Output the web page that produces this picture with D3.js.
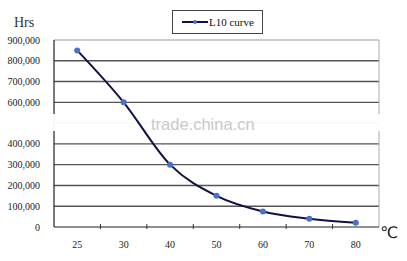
<!DOCTYPE html>
<html>
<head>
<meta charset="utf-8">
<script src="https://cdn.jsdelivr.net/npm/d3@7"></script>
<style>
  body { margin: 0; background: #fff; }
  text { font-family: "Liberation Serif", "DejaVu Serif", serif; }
</style>
</head>
<body>
<div id="chart"></div>
<script>
// data
const temps = ['25', '30', '40', '50', '60', '70', '80'];
const hours = [850000, 600000, 300000, 150000, 75000, 40000, 20000];
const yTicks = [0, 100000, 200000, 300000, 400000, 600000, 700000, 800000, 900000];
const seriesName = 'L10 curve';

const width = 407, height = 261;
const margin = { top: 40, right: 28, bottom: 34, left: 54 };

const svg = d3.select('#chart').append('svg')
  .attr('width', width)
  .attr('height', height);

const x = d3.scaleBand().domain(temps).range([margin.left, width - margin.right]);
const y = d3.scaleLinear().domain([0, 900000]).range([height - margin.bottom, margin.top]);

// horizontal grid
svg.append('g')
  .selectAll('line')
  .data(d3.range(100000, 900001, 100000))
  .enter().append('line')
  .attr('x1', margin.left)
  .attr('x2', width - margin.right)
  .attr('y1', d => y(d))
  .attr('y2', d => y(d))
  .attr('stroke', d => d === 900000 ? '#999' : '#555')
  .attr('stroke-width', d => d === 900000 ? 1 : 1.4);

// right border
svg.append('line')
  .attr('x1', width - margin.right).attr('x2', width - margin.right)
  .attr('y1', y(900000)).attr('y2', y(0))
  .attr('stroke', '#aaa');

// axes
svg.append('line')
  .attr('x1', margin.left).attr('x2', margin.left)
  .attr('y1', y(900000)).attr('y2', y(0))
  .attr('stroke', '#222').attr('stroke-width', 1.2);
svg.append('line')
  .attr('x1', margin.left).attr('x2', width - margin.right)
  .attr('y1', y(0)).attr('y2', y(0))
  .attr('stroke', '#222').attr('stroke-width', 1.2);

// x ticks on category boundaries
svg.append('g')
  .selectAll('line')
  .data(temps.slice(1))
  .enter().append('line')
  .attr('x1', d => x(d)).attr('x2', d => x(d))
  .attr('y1', y(0) - 3).attr('y2', y(0) + 2)
  .attr('stroke', '#333');

// watermark band
svg.append('rect')
  .attr('x', 0).attr('y', 114)
  .attr('width', width).attr('height', 17)
  .attr('fill', '#fff').attr('opacity', 0.95);
svg.append('text')
  .attr('x', 151).attr('y', 130)
  .style('font-family', 'Arial, "Liberation Sans", sans-serif')
  .style('font-size', '16.5px')
  .attr('fill', '#c9c9c9')
  .text('trade.china.cn');

// y labels
svg.append('g')
  .selectAll('text')
  .data(yTicks)
  .enter().append('text')
  .attr('x', 40)
  .attr('y', d => y(d) + 3.5)
  .attr('text-anchor', 'end')
  .style('font-size', '10px')
  .attr('fill', '#222')
  .text(d => d3.format(',')(d));

// x labels
svg.append('g')
  .selectAll('text')
  .data(temps)
  .enter().append('text')
  .attr('x', d => x(d) + x.bandwidth() / 2)
  .attr('y', 248)
  .attr('text-anchor', 'middle')
  .style('font-size', '10px')
  .attr('fill', '#222')
  .text(d => d);

// curve
const line = d3.line()
  .x((d, i) => x(temps[i]) + x.bandwidth() / 2)
  .y(d => y(d))
  .curve(d3.curveCardinal.tension(0));

svg.append('path')
  .datum(hours)
  .attr('d', line)
  .attr('fill', 'none')
  .attr('stroke', '#10104a')
  .attr('stroke-width', 2);

svg.append('g')
  .selectAll('circle')
  .data(hours)
  .enter().append('circle')
  .attr('cx', (d, i) => x(temps[i]) + x.bandwidth() / 2)
  .attr('cy', d => y(d))
  .attr('r', 3)
  .attr('fill', '#4a70c8');

// axis titles
svg.append('text')
  .attr('x', 14).attr('y', 27)
  .style('font-size', '14px')
  .attr('fill', '#333')
  .text('Hrs');
svg.append('text')
  .attr('x', 380).attr('y', 238)
  .style('font-family', '"DejaVu Sans", sans-serif')
  .style('font-size', '16px')
  .attr('fill', '#222')
  .text('℃');

// legend
const lg = svg.append('g');
lg.append('rect')
  .attr('x', 172.5).attr('y', 10.5)
  .attr('width', 90).attr('height', 23)
  .attr('fill', '#fff').attr('stroke', '#444');
lg.append('line')
  .attr('x1', 182).attr('x2', 208).attr('y1', 22).attr('y2', 22)
  .attr('stroke', '#10104a').attr('stroke-width', 2);
lg.append('circle')
  .attr('cx', 195).attr('cy', 22).attr('r', 2)
  .attr('fill', '#4a70c8');
lg.append('text')
  .attr('x', 209).attr('y', 26)
  .style('font-size', '11px')
  .attr('fill', '#111')
  .text(seriesName);
</script>
</body>
</html>
